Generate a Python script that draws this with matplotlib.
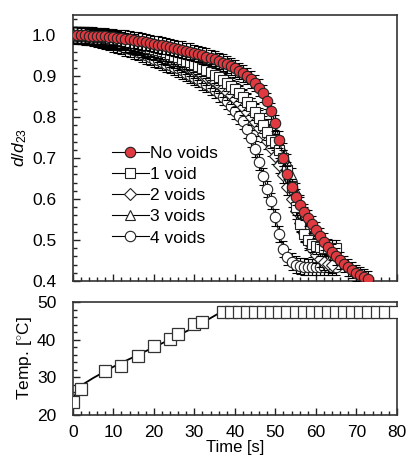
import matplotlib
matplotlib.use("Agg")
import matplotlib.pyplot as plt
from matplotlib.ticker import MultipleLocator

plt.rcParams['font.family'] = ['Liberation Sans', 'DejaVu Sans']
plt.rcParams['mathtext.fontset'] = 'custom'
plt.rcParams['mathtext.rm'] = 'Liberation Sans'
plt.rcParams['mathtext.it'] = 'Liberation Sans:italic'

# d/d23 versus time, sampled every second
t_no = list(range(0, 74))
d_no = [1.000, 1.000, 1.000, 1.000, 0.999, 0.999, 0.998, 0.998, 0.997, 0.996,
        0.995, 0.994, 0.993, 0.992, 0.990, 0.989, 0.987, 0.985, 0.983, 0.981,
        0.979, 0.977, 0.975, 0.973, 0.971, 0.969, 0.967, 0.965, 0.962, 0.960,
        0.957, 0.954, 0.951, 0.948, 0.945, 0.941, 0.937, 0.933, 0.929, 0.924,
        0.919, 0.913, 0.907, 0.900, 0.892, 0.883, 0.872, 0.858, 0.840, 0.815,
        0.785, 0.745, 0.700, 0.660, 0.630, 0.605, 0.585, 0.568, 0.553, 0.538,
        0.524, 0.510, 0.496, 0.483, 0.471, 0.460, 0.450, 0.441, 0.433, 0.426,
        0.420, 0.414, 0.409, 0.405]

t_1 = list(range(0, 66))
d_1 = [1.000, 1.000, 1.000, 0.999, 0.999, 0.998, 0.997, 0.996, 0.995, 0.994,
       0.992, 0.990, 0.988, 0.986, 0.984, 0.982, 0.979, 0.976, 0.973, 0.970,
       0.967, 0.964, 0.961, 0.958, 0.954, 0.950, 0.946, 0.942, 0.938, 0.934,
       0.930, 0.925, 0.920, 0.915, 0.910, 0.904, 0.898, 0.891, 0.884, 0.876,
       0.868, 0.859, 0.849, 0.838, 0.826, 0.813, 0.798, 0.782, 0.764, 0.745,
       0.740, 0.720, 0.700, 0.670, 0.630, 0.580, 0.540, 0.515, 0.500, 0.490,
       0.485, 0.482, 0.480, 0.480, 0.480, 0.480]

t_2 = list(range(0, 65))
d_2 = [1.000, 0.999, 0.999, 0.998, 0.997, 0.996, 0.995, 0.993, 0.991, 0.989,
       0.987, 0.985, 0.983, 0.980, 0.977, 0.974, 0.971, 0.968, 0.965, 0.962,
       0.959, 0.955, 0.951, 0.947, 0.943, 0.939, 0.935, 0.930, 0.925, 0.920,
       0.915, 0.910, 0.904, 0.898, 0.892, 0.885, 0.878, 0.870, 0.862, 0.853,
       0.844, 0.834, 0.824, 0.813, 0.801, 0.788, 0.774, 0.759, 0.742, 0.724,
       0.705, 0.683, 0.658, 0.630, 0.600, 0.570, 0.542, 0.517, 0.496, 0.478,
       0.464, 0.453, 0.446, 0.442, 0.440]

t_3 = list(range(0, 65))
d_3 = [1.000, 1.000, 0.999, 0.999, 0.998, 0.997, 0.996, 0.995, 0.993, 0.991,
       0.989, 0.987, 0.985, 0.983, 0.980, 0.977, 0.975, 0.972, 0.969, 0.966,
       0.963, 0.960, 0.957, 0.953, 0.949, 0.945, 0.941, 0.937, 0.933, 0.929,
       0.925, 0.920, 0.915, 0.910, 0.905, 0.899, 0.893, 0.886, 0.879, 0.871,
       0.863, 0.855, 0.846, 0.836, 0.826, 0.815, 0.803, 0.790, 0.776, 0.762,
       0.748, 0.733, 0.717, 0.690, 0.655, 0.620, 0.590, 0.560, 0.533, 0.510,
       0.492, 0.478, 0.466, 0.457, 0.452]

t_4 = list(range(0, 66))
d_4 = [1.000, 0.999, 0.998, 0.997, 0.995, 0.993, 0.991, 0.989, 0.986, 0.983,
       0.980, 0.977, 0.974, 0.970, 0.967, 0.963, 0.959, 0.955, 0.951, 0.947,
       0.943, 0.939, 0.935, 0.931, 0.927, 0.923, 0.919, 0.914, 0.909, 0.904,
       0.899, 0.893, 0.887, 0.881, 0.874, 0.866, 0.858, 0.849, 0.839, 0.828,
       0.816, 0.803, 0.790, 0.770, 0.748, 0.722, 0.690, 0.655, 0.625, 0.595,
       0.555, 0.515, 0.478, 0.458, 0.447, 0.440, 0.437, 0.435, 0.434, 0.434,
       0.434, 0.434, 0.434, 0.434, 0.434, 0.434]

err = 0.02

# temperature history
t_temp = [0, 2, 8, 12, 16, 20, 24, 26, 30, 32,
          37, 39, 41, 43, 45, 47, 49, 51, 53, 55, 57, 59, 61, 63, 65, 67, 69, 71, 73, 75, 77, 79.5]
T_temp = [23.3, 27.0, 31.8, 33.1, 35.8, 38.2, 40.1, 41.4, 44.3, 44.7,
          47.3, 47.3, 47.3, 47.3, 47.3, 47.3, 47.3, 47.3, 47.3, 47.3, 47.3, 47.3, 47.3, 47.3,
          47.3, 47.3, 47.3, 47.3, 47.3, 47.3, 47.3, 47.3]
t_fit = [0, 1, 2, 5, 10, 15, 20, 25, 30, 36.5, 80]
T_fit = [24.0, 26.3, 27.8, 29.8, 32.8, 35.4, 38.0, 40.6, 43.3, 47.3, 47.3]

fig = plt.figure(figsize=(4.07, 4.62), dpi=100)
ax1 = fig.add_axes([0.179, 0.392, 0.796, 0.576])
ax2 = fig.add_axes([0.179, 0.102, 0.796, 0.244])

series = [
    (t_4, d_4, 'o', 'white', '4 voids', 2),
    (t_3, d_3, '^', 'white', '3 voids', 3),
    (t_2, d_2, 'D', 'white', '2 voids', 4),
    (t_1, d_1, 's', 'white', '1 void', 5),
    (t_no, d_no, 'o', '#e03a40', 'No voids', 6),
]
handles = {}
for t, d, m, fc, lab, z in series:
    ms = 6.5 if m == 'D' else 7.5
    h = ax1.errorbar(t, d, yerr=err, fmt='-' + m, color='black', mfc=fc, mec='#222222',
                     ms=ms, mew=0.8, lw=0.8, elinewidth=0.8, capsize=3, capthick=0.8,
                     zorder=z, label=lab)
    handles[lab] = h

order = ['No voids', '1 void', '2 voids', '3 voids', '4 voids']
ax1.legend([handles[k][0] for k in order], order, loc='upper left',
           bbox_to_anchor=(0.1, 0.535), frameon=False, fontsize=12.5,
           handlelength=2.1, handletextpad=0.1, labelspacing=0.35, borderaxespad=0)

ax1.set_xlim(0, 80)
ax1.set_ylim(0.4, 1.05)
ax1.yaxis.set_major_locator(MultipleLocator(0.1))
ax1.yaxis.set_minor_locator(MultipleLocator(0.02))
ax1.xaxis.set_major_locator(MultipleLocator(10))
ax1.xaxis.set_minor_locator(MultipleLocator(2))
ax1.set_xticklabels([])
ax1.set_ylabel('$d/d_{23}$', fontsize=12.5, labelpad=2)

ax2.plot(t_fit, T_fit, '-', color='black', lw=1.3, zorder=2)
ax2.plot(t_temp, T_temp, 's', mfc='white', mec='#333333', ms=9, mew=0.9, zorder=3)
ax2.set_xlim(0, 80)
ax2.set_ylim(20, 50)
ax2.xaxis.set_major_locator(MultipleLocator(10))
ax2.xaxis.set_minor_locator(MultipleLocator(2))
ax2.yaxis.set_major_locator(MultipleLocator(10))
ax2.yaxis.set_minor_locator(MultipleLocator(2))
ax2.set_xlabel('Time [s]', fontsize=12, labelpad=0)
ax2.set_ylabel('Temp. [$^{\\circ}$C]', fontsize=12.5, labelpad=2)

for ax in (ax1, ax2):
    ax.tick_params(which='both', direction='in', top=False, right=False,
                   labelsize=12.5, color='#222222', width=1.0)
    ax.tick_params(which='major', length=5)
    ax.tick_params(which='minor', length=3)
    ax.tick_params(axis='y', which='major', pad=12)
    ax.tick_params(axis='x', which='major', pad=7)
    for s in ax.spines.values():
        s.set_linewidth(1.2)
        s.set_color('#333333')

fig.savefig('out.png', dpi=100)
